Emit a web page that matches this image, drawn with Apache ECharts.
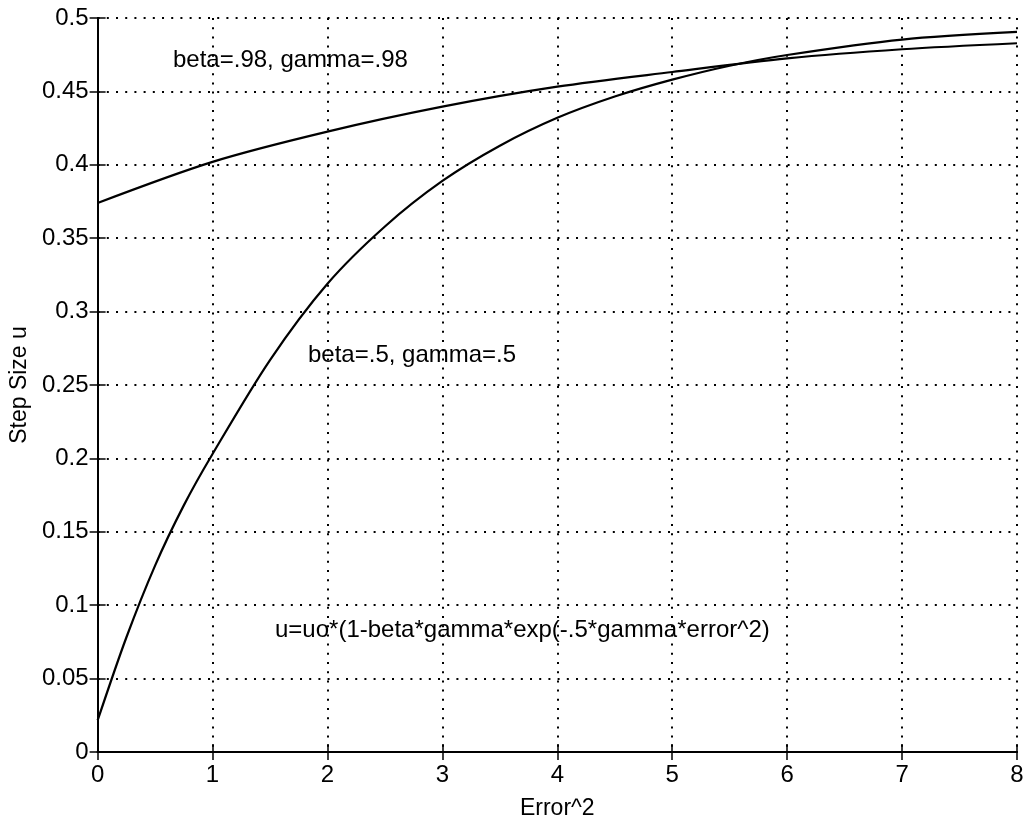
<!DOCTYPE html>
<html>
<head>
<meta charset="utf-8">
<script src="https://cdn.jsdelivr.net/npm/echarts@6/dist/echarts.min.js"></script>
<style>
  html, body { margin: 0; padding: 0; background: #fff; }
  #main { width: 1030px; height: 825px; }
</style>
</head>
<body>
<div id="main"></div>
<script>
// values: [error^2, step size]
var curveFlat = [[0, 0.374], [1, 0.402], [2, 0.4226], [3, 0.4396], [4, 0.4532],
  [5, 0.4632], [6, 0.4725], [7, 0.4787], [8, 0.4828]];
var curveSteep = [[0, 0.0215], [0.25, 0.078], [0.5, 0.127], [0.75, 0.168], [1, 0.203],
  [1.5, 0.267], [2, 0.319], [2.5, 0.358], [3, 0.389], [3.5, 0.413], [4, 0.432],
  [4.5, 0.4465], [5, 0.458], [5.5, 0.4675], [6, 0.4748], [7, 0.4853], [8, 0.4905]];
var xTicks = [0, 1, 2, 3, 4, 5, 6, 7, 8];
var yTicks = [0, 0.05, 0.1, 0.15, 0.2, 0.25, 0.3, 0.35, 0.4, 0.45, 0.5];
var notes = [
  { text: 'beta=.98, gamma=.98', left: 173, top: 48 },
  { text: 'beta=.5, gamma=.5', left: 308, top: 343 },
  { text: 'u=uo*(1-beta*gamma*exp(-.5*gamma*error^2)', left: 275, top: 618 }
];

var font = '"Liberation Sans", Arial, sans-serif';
var grid = { left: 97, right: 13, top: 18, bottom: 73 };

var myChart = echarts.init(document.getElementById('main'));

var dotted = { color: '#000', width: 2, type: [2, 7.2] };
var frameTick = { inside: true, length: 8, lineStyle: { color: '#000', width: 1.5 } };

var option = {
  backgroundColor: '#fff',
  animation: false,
  grid: grid,
  xAxis: [{
    type: 'value', min: 0, max: 8, interval: 1,
    name: 'Error^2', nameLocation: 'middle', nameGap: 45,
    nameTextStyle: { color: '#000', fontSize: 23, fontFamily: font },
    axisLine: { lineStyle: { color: '#000', width: 2 } },
    axisTick: frameTick,
    axisLabel: { color: '#000', fontSize: 24, fontFamily: font, margin: 11,
      formatter: function (v) { return xTicks.indexOf(v) >= 0 ? String(v) : ''; } },
    splitLine: { show: true, lineStyle: dotted }
  }, {
    type: 'value', min: 0, max: 8, interval: 1, position: 'top',
    axisLine: { lineStyle: { color: '#000', width: 2 } },
    axisTick: frameTick,
    axisLabel: { show: false }, splitLine: { show: false }
  }],
  yAxis: [{
    type: 'value', min: 0, max: 0.5, interval: 0.05,
    name: 'Step Size u', nameLocation: 'middle', nameGap: 64,
    nameTextStyle: { color: '#000', fontSize: 23, fontFamily: font },
    axisLine: { lineStyle: { color: '#000', width: 2 } },
    axisTick: frameTick,
    axisLabel: { color: '#000', fontSize: 24, fontFamily: font, margin: 9,
      formatter: function (v) {
        var t = yTicks.find(function (k) { return Math.abs(k - v) < 1e-9; });
        return t === undefined ? '' : String(t);
      } },
    splitLine: { show: true, lineStyle: dotted }
  }, {
    type: 'value', min: 0, max: 0.5, interval: 0.05, position: 'right',
    axisLine: { lineStyle: { color: '#000', width: 2 } },
    axisTick: frameTick,
    axisLabel: { show: false }, splitLine: { show: false }
  }],
  series: [{
    type: 'line', data: curveFlat, smooth: 0.3, showSymbol: false,
    lineStyle: { color: '#000', width: 2.2 }
  }, {
    type: 'line', data: curveSteep, smooth: 0.3, showSymbol: false,
    lineStyle: { color: '#000', width: 2.2 }
  }],
  graphic: notes.map(function (n) {
    return {
      type: 'text', left: n.left, top: n.top,
      style: { text: n.text, fill: '#000', fontSize: 24, fontFamily: font }
    };
  })
};

option && myChart.setOption(option);
</script>
</body>
</html>
